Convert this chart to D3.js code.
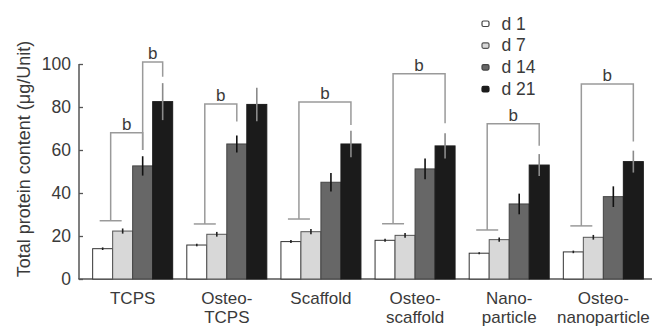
<!DOCTYPE html>
<html><head><meta charset="utf-8">
<script src="https://cdn.jsdelivr.net/npm/d3@7"></script>
<style>body{margin:0;background:#fff}svg{display:block}text{font-family:"Liberation Sans",Arial,sans-serif;fill:#3a3a3a}</style>
</head><body>
<svg id="c" width="656" height="327"></svg>
<script>
const categories = ["TCPS","Osteo-TCPS","Scaffold","Osteo-scaffold","Nano-particle","Osteo-nanoparticle"];
const categoryLines = [["TCPS"],["Osteo-","TCPS"],["Scaffold"],["Osteo-","scaffold"],["Nano-","particle"],["Osteo-","nanoparticle"]];
const series = ["d 1","d 7","d 14","d 21"];
const d1  = [14.1, 15.8, 17.4, 18.0, 12.0, 12.6];
const d7  = [22.3, 20.8, 22.0, 20.3, 18.3, 19.4];
const d14 = [52.6, 62.8, 45.0, 51.2, 34.9, 38.3];
const d21 = [82.5, 81.2, 62.8, 61.9, 53.0, 54.6];
const e1  = [0.6, 0.6, 0.7, 0.7, 0.5, 0.6];
const e7  = [1.2, 1.1, 1.2, 1.1, 1.0, 1.1];
const e14 = [4.5, 4.0, 4.3, 4.8, 4.8, 4.8];
const e21 = [8.6, 7.8, 6.2, 5.9, 5.1, 5.1];
const yTicks = [0, 20, 40, 60, 80, 100];
// significance brackets
const bracketGroup = [0, 0, 1, 2, 3, 4, 5];
const bracketFrom  = [-1, 2, -1, -1, -1, -1, -1]; // -1 = capped start between d1 and d7
const bracketTo    = [2, 3, 2, 3, 3, 3, 3];
const bracketLow   = [27.1, 60.0, 25.6, 27.9, 25.7, 22.8, 24.7];
const bracketTop   = [68.0, 100.9, 81.4, 82.3, 95.5, 72.2, 90.7];
const bracketEnd   = [60.0, 94.1, 73.2, 71.6, 72.4, 62.0, 63.9];
const bracketLabel = ["b","b","b","b","b","b","b"];

const values = [d1, d7, d14, d21];
const errors = [e1, e7, e14, e21];
const fills = ["#ffffff", "#d8d8d8", "#676767", "#1b1b1b"];
const strokes = ["#333", "#555", "#444", "#1b1b1b"];
const errColors = ["#222", "#222", "#111", "#8a8a8a"];

const svg = d3.select("#c");
const x0 = d3.scaleBand().domain(categories).range([85.6, 650.4]).paddingInner(0.15).paddingOuter(0.075);
const x1 = d3.scaleBand().domain(series).range([0, x0.bandwidth()]).padding(0);
const y = d3.scaleLinear().domain([0, 100]).range([279, 64]);

// axes
const axisG = svg.append("g").attr("transform", "translate(79,0)");
const ya = d3.axisLeft(y).tickValues(yTicks).tickSize(-4).tickPadding(8);
axisG.call(ya);
axisG.select(".domain").remove();
axisG.selectAll(".tick line").attr("stroke", "#555").attr("stroke-width", 1.3);
axisG.selectAll(".tick text").attr("font-size", 17.5).attr("fill", "#3a3a3a").attr("font-family", "Liberation Sans, Arial, sans-serif");
svg.append("line").attr("x1", 79).attr("x2", 79).attr("y1", y(100)).attr("y2", y(0)).attr("stroke", "#555").attr("stroke-width", 1.5);
svg.append("line").attr("x1", 78.3).attr("x2", 652).attr("y1", y(0)).attr("y2", y(0)).attr("stroke", "#555").attr("stroke-width", 1.5);

// bars
series.forEach((s, si) => {
  svg.append("g").selectAll("rect").data(categories).join("rect")
    .attr("x", c => x0(c) + x1(s))
    .attr("y", (c, i) => y(values[si][i]))
    .attr("width", x1.bandwidth())
    .attr("height", (c, i) => y(0) - y(values[si][i]))
    .attr("fill", fills[si]).attr("stroke", strokes[si]).attr("stroke-width", 1);
});
// error bars
series.forEach((s, si) => {
  svg.append("g").selectAll("line").data(categories).join("line")
    .attr("x1", c => x0(c) + x1(s) + x1.bandwidth() / 2)
    .attr("x2", c => x0(c) + x1(s) + x1.bandwidth() / 2)
    .attr("y1", (c, i) => y(values[si][i] - errors[si][i]))
    .attr("y2", (c, i) => y(values[si][i] + errors[si][i]))
    .attr("stroke", errColors[si]).attr("stroke-width", 1.6);
});

// brackets
const bg = svg.append("g").attr("fill", "none").attr("stroke", "#9a9a9a").attr("stroke-width", 1.5);
bracketGroup.forEach((g, k) => {
  const c = categories[g];
  const xs = bracketFrom[k] < 0 ? x0(c) + x1.bandwidth() * 0.9 : x0(c) + x1(series[bracketFrom[k]]) + x1.bandwidth() / 2;
  const xe = x0(c) + x1(series[bracketTo[k]]) + x1.bandwidth() / 2;
  const p = d3.path();
  p.moveTo(xs, y(bracketLow[k]));
  p.lineTo(xs, y(bracketTop[k]));
  p.lineTo(xe, y(bracketTop[k]));
  p.lineTo(xe, y(bracketEnd[k]));
  bg.append("path").attr("d", p.toString());
  if (bracketFrom[k] < 0) {
    bg.append("line").attr("x1", xs - 11).attr("x2", xs + 11).attr("y1", y(bracketLow[k])).attr("y2", y(bracketLow[k]));
  }
  svg.append("text").attr("x", (xs + xe) / 2).attr("y", y(bracketTop[k]) - 3)
    .attr("text-anchor", "middle").attr("font-size", 17).text(bracketLabel[k]);
});

// category labels
const cl = svg.append("g");
categories.forEach((c, i) => {
  const t = cl.append("text").attr("x", x0(c) + x0.bandwidth() / 2).attr("y", 303.5)
    .attr("text-anchor", "middle").attr("font-size", 17);
  categoryLines[i].forEach((ln, j) => t.append("tspan").attr("x", x0(c) + x0.bandwidth() / 2).attr("dy", j ? 19 : 0).text(ln));
});

// y title
svg.append("text").attr("transform", "translate(30,159) rotate(-90)").attr("text-anchor", "middle")
  .attr("font-size", 18).text("Total protein content (μg/Unit)");

// legend
const lg = svg.append("g");
series.forEach((s, si) => {
  const yy = 24 + si * 21.8;
  lg.append("rect").attr("x", 482).attr("y", yy - 3).attr("width", 7).attr("height", 5.5).attr("rx", 1.5)
    .attr("fill", fills[si]).attr("stroke", si === 0 ? "#444" : strokes[si]).attr("stroke-width", 1.2);
  lg.append("text").attr("x", 501.5).attr("y", yy + 5.5).attr("font-size", 17.5).text(s);
});
</script>
</body></html>
